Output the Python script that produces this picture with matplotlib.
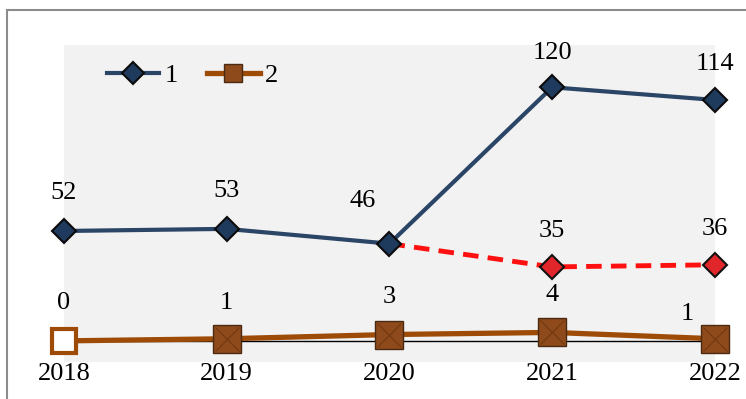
import matplotlib.pyplot as plt
from matplotlib.lines import Line2D
from matplotlib.patches import Rectangle

plt.rcParams['font.family'] = ['Liberation Serif', 'DejaVu Serif']

years = ['2018', '2019', '2020', '2021', '2022']
series1 = [52, 53, 46, 120, 114]
series2 = [0, 1, 3, 4, 1]
# alternative path for the last three years of series 1
alt_years = ['2020', '2021', '2022']
alt_values = [46, 35, 36]

x = list(range(len(years)))
alt_x = [years.index(y) for y in alt_years]

navy = '#2A4566'
navy_face = '#1E3A5C'
brown = '#9E4B08'
brown_face = '#8E4A1A'
red = '#FF1010'

fig = plt.figure(figsize=(7.46, 3.99), dpi=100)
ax = fig.add_axes([0.0858, 0.0927, 0.8725, 0.7945])
ax.set_facecolor('#F2F2F2')

# outer frame of the chart area
fig.patches.append(Rectangle((7 / 746, -0.1), 1.2, 1 - 10 / 399 + 0.1,
                             transform=fig.transFigure, fill=False,
                             edgecolor='#8C8C8C', linewidth=1.5, zorder=0))

ax.axhline(0, color='black', linewidth=1, zorder=1)

ax.plot(alt_x, alt_values, color=red, linewidth=3.5, dashes=(3.2, 1.9),
        zorder=2)
ax.plot(alt_x[1:], alt_values[1:], linestyle='none', marker='D',
        markersize=12, markerfacecolor='#E0262A', markeredgecolor='#111111',
        markeredgewidth=1.5, zorder=4, clip_on=False)

ax.plot(x, series1, color=navy, linewidth=3, marker='D', markersize=12,
        markerfacecolor=navy_face, markeredgecolor='#0B0B0B',
        markeredgewidth=1.5, zorder=3, clip_on=False)

ax.plot(x, series2, color=brown, linewidth=3.8, zorder=3)
ax.plot(x[1:], series2[1:], linestyle='none', marker='s', markersize=19.5,
        markerfacecolor=brown_face, markeredgecolor='#4A2A12',
        markeredgewidth=1, zorder=4, clip_on=False)
ax.plot(x[1:], series2[1:], linestyle='none', marker='x', markersize=17,
        markeredgecolor='#5E2E0C', markeredgewidth=0.8, alpha=0.6, zorder=5,
        clip_on=False)
ax.plot(x[:1], series2[:1], linestyle='none', marker='s', markersize=17,
        markerfacecolor='white', markeredgecolor=brown,
        markeredgewidth=3, zorder=4, clip_on=False)

label_kw = dict(textcoords='offset points', ha='center', va='center',
                fontsize=19, color='black', zorder=6, annotation_clip=False)
offsets1 = [(0, 27), (0, 27), (-19, 31), (0, 25), (0, 26)]
for xi, v, off in zip(x, series1, offsets1):
    ax.annotate(str(v), (xi, v), xytext=off, **label_kw)
for xi, v in zip(alt_x[1:], alt_values[1:]):
    ax.annotate(str(v), (xi, v), xytext=(0, 26), **label_kw)
offsets2 = [(0, 27), (0, 26), (0, 27), (0, 27), (-20, 18)]
for xi, v, off in zip(x, series2, offsets2):
    ax.annotate(str(v), (xi, v), xytext=off, **label_kw)

ax.set_xlim(0, len(years) - 1)
ax.set_ylim(-10, 140)
ax.set_xticks(x)
ax.set_xticklabels(years, fontsize=19)
ax.tick_params(axis='x', length=0, pad=1)
ax.set_yticks([])
for side in ax.spines.values():
    side.set_visible(False)

handles = [
    Line2D([], [], color=navy, linewidth=3, marker='D', markersize=11,
           markerfacecolor=navy_face, markeredgecolor='#0B0B0B',
           markeredgewidth=1.5),
    Line2D([], [], color=brown, linewidth=3.8, marker='s', markersize=13,
           markerfacecolor=brown_face, markeredgecolor='#4A2A12',
           markeredgewidth=1),
]
ax.legend(handles, ['1', '2'], loc='upper left', ncol=2, frameon=False,
          fontsize=19, bbox_to_anchor=(0.037, 1.0), handlelength=2.0,
          handletextpad=0.2, columnspacing=1.1, borderaxespad=0.3)

fig.savefig('out.png', dpi=100)
